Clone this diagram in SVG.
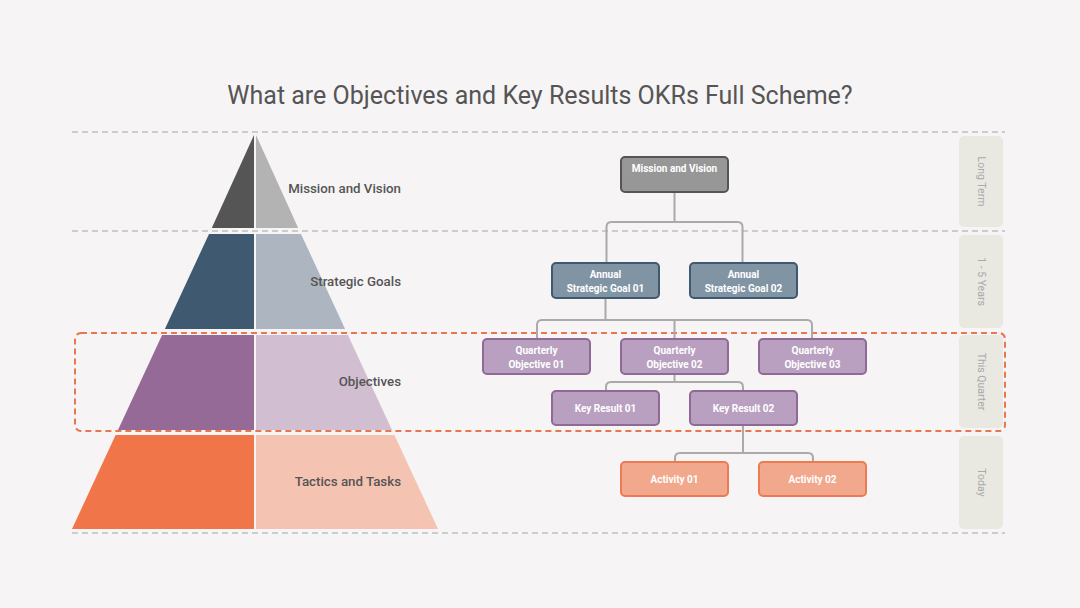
<svg xmlns="http://www.w3.org/2000/svg" width="1080" height="608" viewBox="0 0 1080 608">
<style>
.title{font-family:Roboto,"Liberation Sans",sans-serif;font-size:25px;fill:#555;}
.lbl{font-family:Roboto,"Liberation Sans",sans-serif;font-size:13.3px;font-weight:500;fill:#555;text-anchor:end;}
.nt{font-family:Roboto,"Liberation Sans",sans-serif;font-size:10px;font-weight:700;fill:#fff;text-anchor:middle;}
.tag{fill:#e9e8e1;}
.tt{font-family:Roboto,"Liberation Sans",sans-serif;font-size:10.5px;fill:#aaa;text-anchor:middle;}
.gd{stroke:#cccccc;stroke-width:2;stroke-dasharray:6 4;fill:none;}
.conn{stroke:#aaaaaa;stroke-width:2;fill:none;}
.nb{stroke-width:2;}
</style>
<rect width="1080" height="608" fill="#f7f4f5"/>
<text class="title" x="540" y="104" text-anchor="middle">What are Objectives and Key Results OKRs Full Scheme?</text>

<g id="guides">
<line class="gd" x1="72" y1="132" x2="1005" y2="132"/>
<line class="gd" x1="72" y1="231" x2="1005" y2="231"/>
<line class="gd" x1="72" y1="533" x2="1005" y2="533"/>
<rect x="75" y="333" width="930" height="98" rx="6" fill="none" stroke="#e8764e" stroke-width="2" stroke-dasharray="6 4"/>
</g>

<g id="pyramid-mission">
<polygon points="254,135 254,228 211.8,228" fill="#555555"/>
<polygon points="256,135 256,228 298.2,228" fill="#b3b3b3"/>
<text class="lbl" x="401" y="193">Mission and Vision</text>
</g>
<g id="pyramid-strategic">
<polygon points="209,234 254,234 254,329 164.9,329" fill="#3f5a70"/>
<polygon points="256,234 301,234 345.1,329 256,329" fill="#adb6c0"/>
<text class="lbl" x="401" y="286">Strategic Goals</text>
</g>
<g id="pyramid-objectives">
<polygon points="162.1,335 254,335 254,430 118,430" fill="#956a96"/>
<polygon points="256,335 347.9,335 392,430 256,430" fill="#d1bfd1"/>
<text class="lbl" x="401" y="386">Objectives</text>
</g>
<g id="pyramid-tactics">
<polygon points="115.6,435 254,435 254,529 72,529" fill="#f0764a"/>
<polygon points="256,435 394.4,435 438,529 256,529" fill="#f4c3b1"/>
<text class="lbl" x="401" y="486">Tactics and Tasks</text>
</g>

<g id="connectors">
<path class="conn" d="M674.5,192 V222 M606.5,263 V227 Q606.5,222 611.5,222 H737.5 Q742.5,222 742.5,227 V263"/>
<path class="conn" d="M605.5,298 V320 M537,339 V325 Q537,320 542,320 H807 Q812,320 812,325 V339 M674.5,320 V339"/>
<path class="conn" d="M674.5,374 V382 M606,391 V387 Q606,382 611,382 H738 Q743,382 743,387 V391"/>
<path class="conn" d="M743,425 V453 M675,462 V458 Q675,453 680,453 H808 Q813,453 813,458 V462"/>
</g>

<g id="node-mission">
<rect class="nb" x="621" y="157" width="107" height="35" rx="4" fill="#979797" stroke="#555555"/>
<text class="nt" x="674.5" y="171.5">Mission and Vision</text>
</g>
<g id="node-goal01">
<rect class="nb" x="552" y="263" width="107" height="35" rx="4" fill="#8194a4" stroke="#3f5a70"/>
<text class="nt" x="605.5" y="277.5">Annual</text>
<text class="nt" x="605.5" y="291.5">Strategic Goal 01</text>
</g>
<g id="node-goal02">
<rect class="nb" x="690" y="263" width="107" height="35" rx="4" fill="#8194a4" stroke="#3f5a70"/>
<text class="nt" x="743.5" y="277.5">Annual</text>
<text class="nt" x="743.5" y="291.5">Strategic Goal 02</text>
</g>
<g id="node-obj01">
<rect class="nb" x="483" y="339" width="107" height="35" rx="4" fill="#b99fc0" stroke="#8f6a97"/>
<text class="nt" x="536.5" y="354">Quarterly</text>
<text class="nt" x="536.5" y="368">Objective 01</text>
</g>
<g id="node-obj02">
<rect class="nb" x="621" y="339" width="107" height="35" rx="4" fill="#b99fc0" stroke="#8f6a97"/>
<text class="nt" x="674.5" y="354">Quarterly</text>
<text class="nt" x="674.5" y="368">Objective 02</text>
</g>
<g id="node-obj03">
<rect class="nb" x="759" y="339" width="107" height="35" rx="4" fill="#b99fc0" stroke="#8f6a97"/>
<text class="nt" x="812.5" y="354">Quarterly</text>
<text class="nt" x="812.5" y="368">Objective 03</text>
</g>
<g id="node-kr01">
<rect class="nb" x="552" y="391" width="107" height="34" rx="4" fill="#b99fc0" stroke="#8f6a97"/>
<text class="nt" x="605.5" y="411.5">Key Result 01</text>
</g>
<g id="node-kr02">
<rect class="nb" x="690" y="391" width="107" height="34" rx="4" fill="#b99fc0" stroke="#8f6a97"/>
<text class="nt" x="743.5" y="411.5">Key Result 02</text>
</g>
<g id="node-act01">
<rect class="nb" x="621" y="462" width="107" height="34" rx="4" fill="#f2a88c" stroke="#ee7a53"/>
<text class="nt" x="674.5" y="482.5">Activity 01</text>
</g>
<g id="node-act02">
<rect class="nb" x="759" y="462" width="107" height="34" rx="4" fill="#f2a88c" stroke="#ee7a53"/>
<text class="nt" x="812.5" y="482.5">Activity 02</text>
</g>

<g id="tag-long">
<rect class="tag" x="959" y="136" width="44" height="91" rx="5"/>
<text class="tt" transform="translate(981,181.5) rotate(90)" y="3.5">Long Term</text>
</g>
<g id="tag-years">
<rect class="tag" x="959" y="235" width="44" height="93" rx="5"/>
<text class="tt" transform="translate(981,281.5) rotate(90)" y="3.5">1 - 5 Years</text>
</g>
<g id="tag-quarter">
<rect class="tag" x="959" y="335" width="44" height="93" rx="5"/>
<text class="tt" transform="translate(981,381.5) rotate(90)" y="3.5">This Quarter</text>
</g>
<g id="tag-today">
<rect class="tag" x="959" y="436" width="44" height="93" rx="5"/>
<text class="tt" transform="translate(981,482.5) rotate(90)" y="3.5">Today</text>
</g>
</svg>
